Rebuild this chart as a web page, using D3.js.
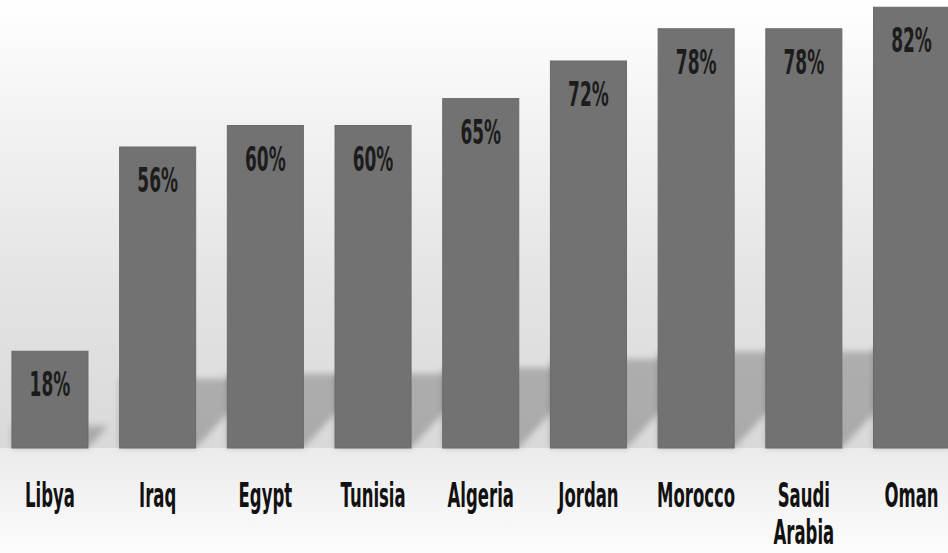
<!DOCTYPE html>
<html>
<head>
<meta charset="utf-8">
<script src="https://cdn.jsdelivr.net/npm/d3@7"></script>
<style>
  html, body { margin: 0; padding: 0; background: #ffffff; }
  svg { display: block; }
</style>
</head>
<body>
<svg id="chart" width="948" height="553"></svg>
<script>
// Share of respondents by country
const categories = ["Libya", "Iraq", "Egypt", "Tunisia", "Algeria", "Jordan", "Morocco", "Saudi Arabia", "Oman"];
const values = [18, 56, 60, 60, 65, 72, 78, 78, 82];
const valueLabels = ["18%", "56%", "60%", "60%", "65%", "72%", "78%", "78%", "82%"];

const W = 948, H = 553;
const baseY = 448;

const svg = d3.select("#chart");
const defs = svg.append("defs");

// back wall gradient: white at the top, fading to light grey at the floor line
const wall = defs.append("linearGradient").attr("id", "wall")
  .attr("x1", 0).attr("y1", 0).attr("x2", 0).attr("y2", 1);
[[0, "#ffffff"], [0.3, "#f1f1f1"], [0.65, "#e3e3e3"], [1, "#d9d9d9"]]
  .forEach(([o, c]) => wall.append("stop").attr("offset", o).attr("stop-color", c));

const floor = defs.append("linearGradient").attr("id", "floor")
  .attr("x1", 0).attr("y1", 0).attr("x2", 0).attr("y2", 1);
[[0, "#ebebeb"], [1, "#fcfcfc"]]
  .forEach(([o, c]) => floor.append("stop").attr("offset", o).attr("stop-color", c));

const blur = defs.append("filter").attr("id", "soft")
  .attr("x", "-20%").attr("y", "-20%").attr("width", "140%").attr("height", "140%");
blur.append("feGaussianBlur").attr("stdDeviation", 3.2);

svg.append("rect").attr("x", 0).attr("y", 0).attr("width", W).attr("height", baseY)
  .attr("fill", "url(#wall)");
svg.append("rect").attr("x", 0).attr("y", baseY).attr("width", W).attr("height", H - baseY)
  .attr("fill", "url(#floor)");

const x = d3.scaleBand()
  .domain(categories)
  .range([-3.9, 965.4])
  .paddingInner(0.294)
  .paddingOuter(0.147);

const y = d3.scaleLinear()
  .domain([0, 100])
  .range([baseY, baseY - 537.5]);

const data = categories.map((c, i) => ({ c, v: values[i], label: valueLabels[i] }));

// perspective shadows cast up and to the right of each bar
const shadowRatio = 0.23, shear = 0.92;
svg.append("g").attr("filter", "url(#soft)")
  .selectAll("path").data(data).join("path")
  .attr("d", d => {
    const x0 = x(d.c), x1 = x0 + x.bandwidth();
    const sh = (y(0) - y(d.v)) * shadowRatio;
    const dx = sh * shear;
    return `M${x0},${baseY}L${x1},${baseY}L${x1 + dx},${baseY - sh}L${x0},${baseY - sh}Z`;
  })
  .attr("fill", "#000")
  .attr("fill-opacity", 0.22);

// bars
svg.append("g").selectAll("rect").data(data).join("rect")
  .attr("x", d => x(d.c))
  .attr("y", d => y(d.v))
  .attr("width", x.bandwidth())
  .attr("height", d => y(0) - y(d.v))
  .attr("fill", "#727272")
  .attr("stroke", "#6a6a6a")
  .attr("stroke-width", 1);

const fontFamily = "'DejaVu Sans', sans-serif";
const squeeze = 0.5;

// value labels inside the top of each bar
svg.append("g").selectAll("text").data(data).join("text")
  .attr("transform", d => `translate(${x(d.c) + x.bandwidth() / 2},${y(d.v) + 45}) scale(${squeeze},1)`)
  .attr("text-anchor", "middle")
  .attr("font-family", fontFamily)
  .attr("font-weight", "bold")
  .attr("font-size", 34)
  .attr("fill", "#1c1c1c")
  .text(d => d.label);

// category labels below the floor line
const cat = svg.append("g").selectAll("text").data(data).join("text")
  .attr("transform", d => `translate(${x(d.c) + x.bandwidth() / 2},507) scale(${squeeze},1)`)
  .attr("text-anchor", "middle")
  .attr("font-family", fontFamily)
  .attr("font-weight", "bold")
  .attr("font-size", 33)
  .attr("fill", "#111111");

cat.selectAll("tspan").data(d => d.c.split(" ")).join("tspan")
  .attr("x", 0)
  .attr("dy", (w, i) => i === 0 ? 0 : 37)
  .text(w => w);
</script>
</body>
</html>
